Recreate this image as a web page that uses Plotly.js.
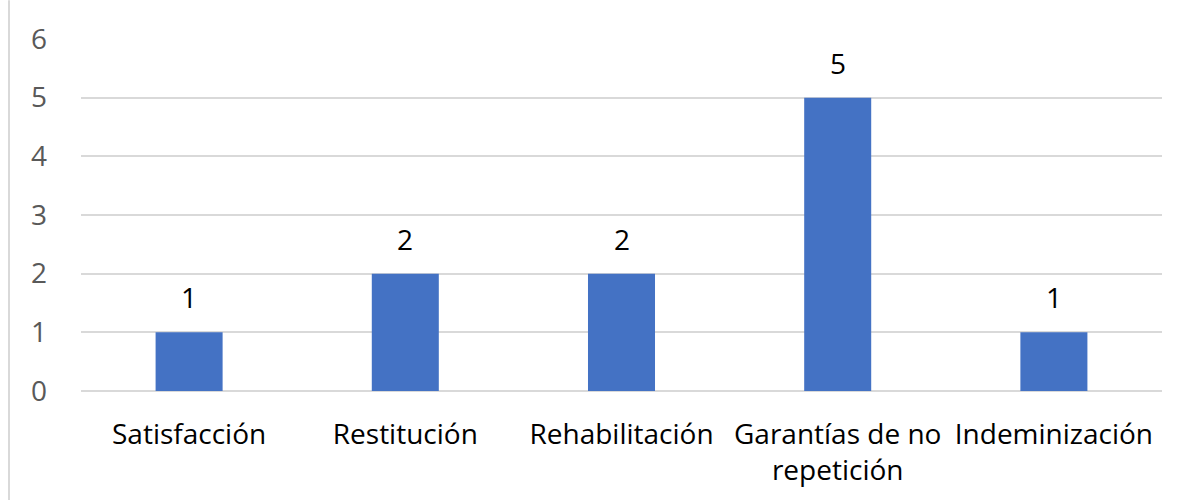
<!DOCTYPE html>
<html>
<head>
<meta charset="utf-8">
<script src="https://cdn.plot.ly/plotly-3.0.1.min.js"></script>
<style>html,body{margin:0;padding:0;background:#fff;}#chart{width:1201px;height:500px;}</style>
</head>
<body>
<div id="chart"></div>
<script>
const categories = ["Satisfacción", "Restitución", "Rehabilitación", "Garantías de no<br>repetición", "Indeminización"];
const values = [1, 2, 2, 5, 1];
const yTicks = [0, 1, 2, 3, 4, 5, 6];

const font = "Open Sans, Noto Sans, sans-serif";

Plotly.newPlot("chart", [{
  type: "bar",
  x: categories,
  y: values,
  marker: {color: "#4472C4"},
  hoverinfo: "x+y"
}], {
  width: 1201,
  height: 500,
  margin: {l: 81, r: 39, t: 38.5, b: 109, pad: 0},
  paper_bgcolor: "#ffffff",
  plot_bgcolor: "#ffffff",
  bargap: 0.69,
  showlegend: false,
  xaxis: {
    type: "category",
    tickfont: {family: font, size: 28, color: "#000000"},
    ticks: "",
    showgrid: false,
    zeroline: false,
    showline: false,
    ticklabelstandoff: 24
  },
  yaxis: {
    range: [0, 6],
    tickvals: yTicks,
    ticktext: yTicks.map(String),
    tickfont: {family: font, size: 28, color: "#595959"},
    showgrid: true,
    gridcolor: "#d9d9d9",
    gridwidth: 2,
    zeroline: true,
    zerolinecolor: "#d9d9d9",
    zerolinewidth: 2,
    showline: false,
    ticks: "",
    ticklabelstandoff: 33
  },
  annotations: categories.map((c, i) => ({
    x: c, y: values[i], xref: "x", yref: "y",
    text: String(values[i]),
    showarrow: false,
    yanchor: "middle",
    yshift: 35,
    font: {family: font, size: 28, color: "#000000"}
  })),
  shapes: [{
    type: "line",
    xref: "paper", yref: "paper",
    x0: -0.0666, x1: -0.0666,
    y0: -0.31, y1: 1.11,
    line: {color: "#d9d9d9", width: 2}
  }]
}, {staticPlot: true});
</script>
</body>
</html>
